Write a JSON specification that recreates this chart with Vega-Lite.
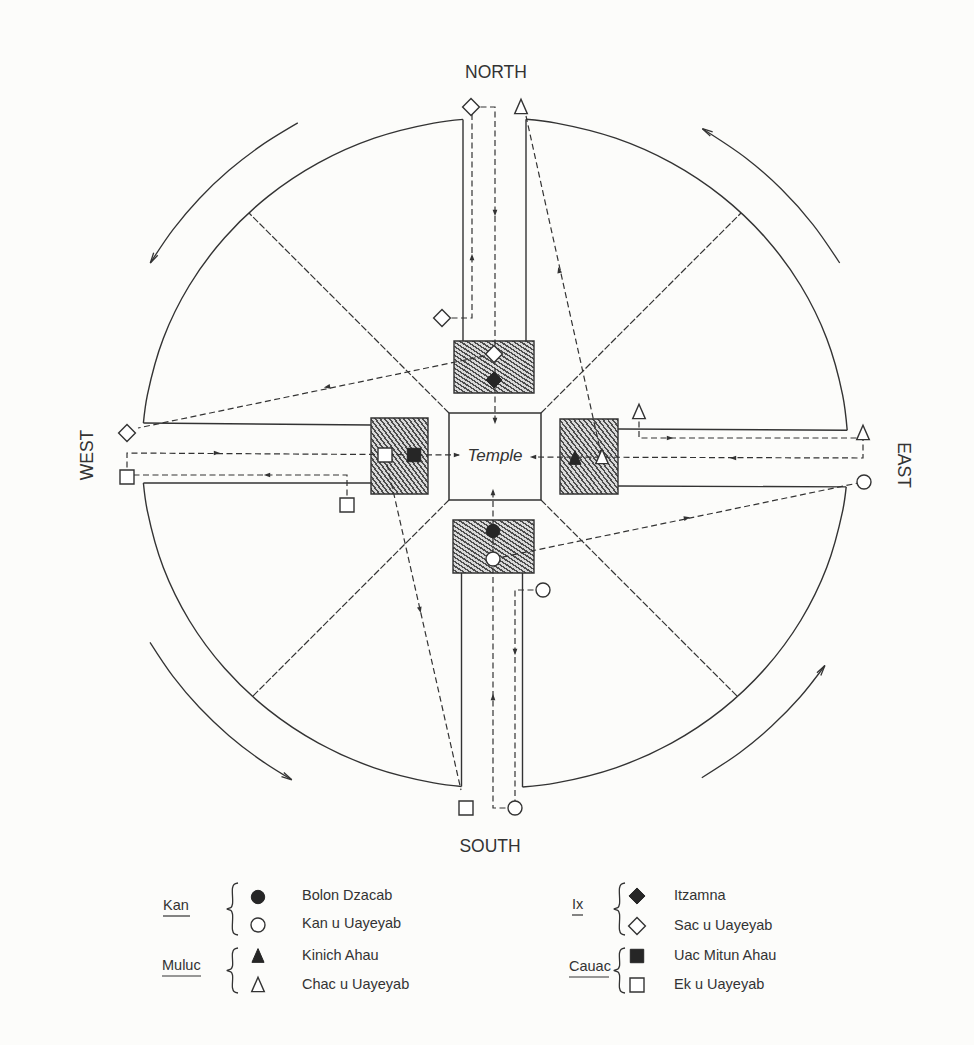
{
 "$schema": "https://vega.github.io/schema/vega-lite/v6.json",
 "width": 974, "height": 1045,
 "autosize": {"type": "fit", "contains": "padding"},
 "padding": 0,
 "background": "#fcfcfa",
 "config": {"view": {"stroke": null}},
 "datasets": {
  "boxes": [
   {"x": 454, "x2": 534, "y": 341, "y2": 393},
   {"x": 371, "x2": 428, "y": 418, "y2": 494},
   {"x": 560, "x2": 618, "y": 419, "y2": 494},
   {"x": 453, "x2": 534, "y": 520, "y2": 573}
  ],
  "temple": [{"x": 449, "x2": 541, "y": 413, "y2": 500}],
  "walls": [
   {"x": 463, "y": 119.4, "x2": 463, "y2": 341},
   {"x": 526, "y": 119.3, "x2": 526, "y2": 341},
   {"x": 461.5, "y": 573, "x2": 461.5, "y2": 786.5},
   {"x": 522.5, "y": 573, "x2": 522.5, "y2": 787},
   {"x": 143.4, "y": 423, "x2": 371, "y2": 425},
   {"x": 143.4, "y": 483, "x2": 371, "y2": 483},
   {"x": 618, "y": 429, "x2": 847.2, "y2": 430.2},
   {"x": 618, "y": 486, "x2": 846.2, "y2": 486.9}
  ],
  "diagonals": [
   {"x": 449, "y": 413, "x2": 249, "y2": 213},
   {"x": 541, "y": 413, "x2": 741, "y2": 213},
   {"x": 449, "y": 500, "x2": 252.5, "y2": 696.5},
   {"x": 541, "y": 500, "x2": 737.5, "y2": 696.5}
  ],
  "circle": [
   {"id": "ne", "i": 0, "x": 847.2, "y": 430.2}, {"id": "ne", "i": 1, "x": 842.6, "y": 394.8}, {"id": "ne", "i": 2, "x": 826.7, "y": 338.4}, {"id": "ne", "i": 3, "x": 800.7, "y": 285.5}, {"id": "ne", "i": 4, "x": 765.4, "y": 237.7}, {"id": "ne", "i": 5, "x": 721.9, "y": 196.4}, {"id": "ne", "i": 6, "x": 671.5, "y": 162.9}, {"id": "ne", "i": 7, "x": 615.7, "y": 138.2}, {"id": "ne", "i": 8, "x": 556.3, "y": 123.1}, {"id": "ne", "i": 9, "x": 526, "y": 119.3},
   {"id": "nw", "i": 0, "x": 463, "y": 119.4}, {"id": "nw", "i": 1, "x": 433.7, "y": 123.1}, {"id": "nw", "i": 2, "x": 374.3, "y": 138.2}, {"id": "nw", "i": 3, "x": 318.5, "y": 162.9}, {"id": "nw", "i": 4, "x": 268.1, "y": 196.4}, {"id": "nw", "i": 5, "x": 224.6, "y": 237.7}, {"id": "nw", "i": 6, "x": 189.3, "y": 285.5}, {"id": "nw", "i": 7, "x": 163.3, "y": 338.4}, {"id": "nw", "i": 8, "x": 147.4, "y": 394.8}, {"id": "nw", "i": 9, "x": 143.4, "y": 423},
   {"id": "sw", "i": 0, "x": 143.4, "y": 483}, {"id": "sw", "i": 1, "x": 147.4, "y": 511.2}, {"id": "sw", "i": 2, "x": 163.3, "y": 567.6}, {"id": "sw", "i": 3, "x": 189.3, "y": 620.5}, {"id": "sw", "i": 4, "x": 224.6, "y": 668.3}, {"id": "sw", "i": 5, "x": 268.1, "y": 709.6}, {"id": "sw", "i": 6, "x": 318.5, "y": 743.1}, {"id": "sw", "i": 7, "x": 374.3, "y": 767.8}, {"id": "sw", "i": 8, "x": 433.7, "y": 782.9}, {"id": "sw", "i": 9, "x": 461.5, "y": 786.5},
   {"id": "se", "i": 0, "x": 522.5, "y": 787}, {"id": "se", "i": 1, "x": 556.3, "y": 782.9}, {"id": "se", "i": 2, "x": 615.7, "y": 767.8}, {"id": "se", "i": 3, "x": 671.5, "y": 743.1}, {"id": "se", "i": 4, "x": 721.9, "y": 709.6}, {"id": "se", "i": 5, "x": 765.4, "y": 668.3}, {"id": "se", "i": 6, "x": 800.7, "y": 620.5}, {"id": "se", "i": 7, "x": 826.7, "y": 567.6}, {"id": "se", "i": 8, "x": 842.6, "y": 511.2}, {"id": "se", "i": 9, "x": 846.2, "y": 486.9}
  ],
  "outer": [
   {"id": "ne", "i": 0, "x": 839.7, "y": 263}, {"id": "ne", "i": 1, "x": 812.8, "y": 224.3}, {"id": "ne", "i": 2, "x": 781.3, "y": 189}, {"id": "ne", "i": 3, "x": 745.5, "y": 157.7}, {"id": "ne", "i": 4, "x": 702.4, "y": 128.7},
   {"id": "nw", "i": 0, "x": 297.8, "y": 122.9}, {"id": "nw", "i": 1, "x": 261.1, "y": 145.6}, {"id": "nw", "i": 2, "x": 228.7, "y": 170.6}, {"id": "nw", "i": 3, "x": 199.2, "y": 198.7}, {"id": "nw", "i": 4, "x": 173, "y": 229.6}, {"id": "nw", "i": 5, "x": 150.3, "y": 263},
   {"id": "sw", "i": 0, "x": 150, "y": 642.4}, {"id": "sw", "i": 1, "x": 173, "y": 676.4}, {"id": "sw", "i": 2, "x": 199.2, "y": 707.3}, {"id": "sw", "i": 3, "x": 228.7, "y": 735.4}, {"id": "sw", "i": 4, "x": 261.1, "y": 760.4}, {"id": "sw", "i": 5, "x": 291.8, "y": 779.8},
   {"id": "se", "i": 0, "x": 701.8, "y": 777.7}, {"id": "se", "i": 1, "x": 740, "y": 752.4}, {"id": "se", "i": 2, "x": 771.5, "y": 726.3}, {"id": "se", "i": 3, "x": 799.9, "y": 697.3}, {"id": "se", "i": 4, "x": 824.9, "y": 665.5}
  ],
  "outerHeads": [
   {"x": 702.4, "y": 128.7, "heading": 300},
   {"x": 150.3, "y": 263, "heading": 211},
   {"x": 291.8, "y": 779.8, "heading": 119.5},
   {"x": 824.9, "y": 665.5, "heading": 35}
  ],
  "paths": [
   {"id": "p1", "i": 0, "x": 442, "y": 318}, {"id": "p1", "i": 1, "x": 472, "y": 318}, {"id": "p1", "i": 2, "x": 472, "y": 110},
   {"id": "p2", "i": 0, "x": 471, "y": 107}, {"id": "p2", "i": 1, "x": 495, "y": 107}, {"id": "p2", "i": 2, "x": 495, "y": 424},
   {"id": "p4", "i": 0, "x": 494, "y": 354}, {"id": "p4", "i": 1, "x": 138, "y": 428},
   {"id": "p5", "i": 0, "x": 526, "y": 116}, {"id": "p5", "i": 1, "x": 602, "y": 458},
   {"id": "p6", "i": 0, "x": 639, "y": 412}, {"id": "p6", "i": 1, "x": 639, "y": 438}, {"id": "p6", "i": 2, "x": 863, "y": 438}, {"id": "p6", "i": 3, "x": 863, "y": 458}, {"id": "p6", "i": 4, "x": 533, "y": 457},
   {"id": "p8", "i": 0, "x": 493, "y": 559}, {"id": "p8", "i": 1, "x": 863, "y": 482},
   {"id": "p10", "i": 0, "x": 515, "y": 808}, {"id": "p10", "i": 1, "x": 493, "y": 808}, {"id": "p10", "i": 2, "x": 493, "y": 490},
   {"id": "p11", "i": 0, "x": 543, "y": 590}, {"id": "p11", "i": 1, "x": 515, "y": 590}, {"id": "p11", "i": 2, "x": 515, "y": 808},
   {"id": "p12", "i": 0, "x": 127, "y": 477}, {"id": "p12", "i": 1, "x": 127, "y": 453}, {"id": "p12", "i": 2, "x": 459, "y": 455},
   {"id": "p13", "i": 0, "x": 347, "y": 505}, {"id": "p13", "i": 1, "x": 347, "y": 475}, {"id": "p13", "i": 2, "x": 127, "y": 475},
   {"id": "p14", "i": 0, "x": 385, "y": 455}, {"id": "p14", "i": 1, "x": 461, "y": 790}
  ],
  "heads": [
   {"x": 472, "y": 257, "heading": 0},
   {"x": 495, "y": 213, "heading": 180},
   {"x": 495, "y": 421, "heading": 180},
   {"x": 327, "y": 387, "heading": 259},
   {"x": 559, "y": 270, "heading": 347},
   {"x": 217, "y": 453, "heading": 90},
   {"x": 267, "y": 475, "heading": 270},
   {"x": 457, "y": 455, "heading": 90},
   {"x": 670, "y": 438, "heading": 90},
   {"x": 733, "y": 458, "heading": 270},
   {"x": 533, "y": 457, "heading": 270},
   {"x": 493, "y": 492, "heading": 0},
   {"x": 515, "y": 652, "heading": 180},
   {"x": 493, "y": 697, "heading": 0},
   {"x": 420, "y": 610, "heading": 167},
   {"x": 687, "y": 518, "heading": 78}
  ],
  "openSymbols": [
   {"kind": "diamond", "x": 471, "y": 107}, {"kind": "diamond", "x": 442, "y": 318}, {"kind": "diamond", "x": 494, "y": 354}, {"kind": "diamond", "x": 127, "y": 433},
   {"kind": "triangle", "x": 521, "y": 107}, {"kind": "triangle", "x": 639, "y": 412}, {"kind": "triangle", "x": 863, "y": 433}, {"kind": "triangle", "x": 602, "y": 457},
   {"kind": "circle", "x": 493, "y": 559}, {"kind": "circle", "x": 543, "y": 590}, {"kind": "circle", "x": 515, "y": 808}, {"kind": "circle", "x": 864, "y": 482},
   {"kind": "square", "x": 127, "y": 477}, {"kind": "square", "x": 347, "y": 505}, {"kind": "square", "x": 385, "y": 455}, {"kind": "square", "x": 466, "y": 808},
   {"kind": "circle", "x": 258, "y": 925}, {"kind": "triangle", "x": 258, "y": 985}, {"kind": "diamond", "x": 637, "y": 926}, {"kind": "square", "x": 637, "y": 985}
  ],
  "filledSymbols": [
   {"kind": "diamond", "x": 494, "y": 380}, {"kind": "triangle", "x": 575, "y": 458}, {"kind": "circle", "x": 493, "y": 531}, {"kind": "square", "x": 414, "y": 455},
   {"kind": "circle", "x": 258, "y": 897}, {"kind": "triangle", "x": 258, "y": 956}, {"kind": "diamond", "x": 637, "y": 896}, {"kind": "square", "x": 637, "y": 956}
  ],
  "braces": [
   {"id": "b1", "i": 0, "x": 238, "y": 883}, {"id": "b1", "i": 1, "x": 234, "y": 884.5}, {"id": "b1", "i": 2, "x": 232.5, "y": 888}, {"id": "b1", "i": 3, "x": 232.5, "y": 904}, {"id": "b1", "i": 4, "x": 231, "y": 907.5}, {"id": "b1", "i": 5, "x": 227, "y": 909}, {"id": "b1", "i": 6, "x": 231, "y": 910.5}, {"id": "b1", "i": 7, "x": 232.5, "y": 914}, {"id": "b1", "i": 8, "x": 232.5, "y": 930}, {"id": "b1", "i": 9, "x": 234, "y": 933.5}, {"id": "b1", "i": 10, "x": 238, "y": 935},
   {"id": "b2", "i": 0, "x": 238, "y": 948}, {"id": "b2", "i": 1, "x": 234, "y": 949.5}, {"id": "b2", "i": 2, "x": 232.5, "y": 953}, {"id": "b2", "i": 3, "x": 232.5, "y": 966}, {"id": "b2", "i": 4, "x": 231, "y": 969}, {"id": "b2", "i": 5, "x": 227, "y": 970.5}, {"id": "b2", "i": 6, "x": 231, "y": 972}, {"id": "b2", "i": 7, "x": 232.5, "y": 975}, {"id": "b2", "i": 8, "x": 232.5, "y": 988}, {"id": "b2", "i": 9, "x": 234, "y": 991.5}, {"id": "b2", "i": 10, "x": 238, "y": 993},
   {"id": "b3", "i": 0, "x": 625, "y": 883}, {"id": "b3", "i": 1, "x": 621, "y": 884.5}, {"id": "b3", "i": 2, "x": 619.5, "y": 888}, {"id": "b3", "i": 3, "x": 619.5, "y": 904}, {"id": "b3", "i": 4, "x": 618, "y": 907.5}, {"id": "b3", "i": 5, "x": 614, "y": 909}, {"id": "b3", "i": 6, "x": 618, "y": 910.5}, {"id": "b3", "i": 7, "x": 619.5, "y": 914}, {"id": "b3", "i": 8, "x": 619.5, "y": 930}, {"id": "b3", "i": 9, "x": 621, "y": 933.5}, {"id": "b3", "i": 10, "x": 625, "y": 935},
   {"id": "b4", "i": 0, "x": 625, "y": 948}, {"id": "b4", "i": 1, "x": 621, "y": 949.5}, {"id": "b4", "i": 2, "x": 619.5, "y": 953}, {"id": "b4", "i": 3, "x": 619.5, "y": 966}, {"id": "b4", "i": 4, "x": 618, "y": 969}, {"id": "b4", "i": 5, "x": 614, "y": 970.5}, {"id": "b4", "i": 6, "x": 618, "y": 972}, {"id": "b4", "i": 7, "x": 619.5, "y": 975}, {"id": "b4", "i": 8, "x": 619.5, "y": 988}, {"id": "b4", "i": 9, "x": 621, "y": 991.5}, {"id": "b4", "i": 10, "x": 625, "y": 993}
  ],
  "underlines": [
   {"x": 163, "x2": 190, "y": 916, "y2": 916},
   {"x": 162, "x2": 201, "y": 976, "y2": 976},
   {"x": 572, "x2": 583, "y": 915, "y2": 915},
   {"x": 569, "x2": 609, "y": 977, "y2": 977}
  ],
  "compass": [
   {"label": "NORTH", "x": 496, "y": 73},
   {"label": "SOUTH", "x": 490, "y": 847}
  ],
  "west": [{"label": "WEST", "x": 88, "y": 455}],
  "east": [{"label": "EAST", "x": 903, "y": 465}],
  "templeLabel": [{"label": "Temple", "x": 495, "y": 456}],
  "groups": [
   {"label": "Kan", "x": 163, "y": 906},
   {"label": "Muluc", "x": 162, "y": 966},
   {"label": "Ix", "x": 572, "y": 905},
   {"label": "Cauac", "x": 569, "y": 967}
  ],
  "items": [
   {"label": "Bolon Dzacab", "x": 302, "y": 896},
   {"label": "Kan u Uayeyab", "x": 302, "y": 924},
   {"label": "Kinich Ahau", "x": 302, "y": 956},
   {"label": "Chac u Uayeyab", "x": 302, "y": 985},
   {"label": "Itzamna", "x": 674, "y": 896},
   {"label": "Sac u Uayeyab", "x": 674, "y": 926},
   {"label": "Uac Mitun Ahau", "x": 674, "y": 956},
   {"label": "Ek u Uayeyab", "x": 674, "y": 985}
  ]
 },
 "encoding": {
  "x": {"field": "x", "type": "quantitative", "scale": {"domain": [0, 974], "nice": false, "zero": false}, "axis": null},
  "y": {"field": "y", "type": "quantitative", "scale": {"domain": [0, 1045], "nice": false, "zero": false, "reverse": true}, "axis": null}
 },
 "layer": [
  {
   "data": {"name": "boxes"},
   "mark": {"type": "rect", "stroke": "#333333", "strokeWidth": 1.4,
    "fill": {"gradient": "linear", "x1": 0, "y1": 1, "x2": 1, "y2": 0, "stops": [
     {"offset": 0, "color": "#d9d9d9"}, {"offset": 0.025, "color": "#d9d9d9"}, {"offset": 0.025, "color": "#4d4d4d"}, {"offset": 0.04167, "color": "#4d4d4d"},
     {"offset": 0.04167, "color": "#d9d9d9"}, {"offset": 0.06667, "color": "#d9d9d9"}, {"offset": 0.06667, "color": "#4d4d4d"}, {"offset": 0.08333, "color": "#4d4d4d"},
     {"offset": 0.08333, "color": "#d9d9d9"}, {"offset": 0.10833, "color": "#d9d9d9"}, {"offset": 0.10833, "color": "#4d4d4d"}, {"offset": 0.125, "color": "#4d4d4d"},
     {"offset": 0.125, "color": "#d9d9d9"}, {"offset": 0.15, "color": "#d9d9d9"}, {"offset": 0.15, "color": "#4d4d4d"}, {"offset": 0.16667, "color": "#4d4d4d"},
     {"offset": 0.16667, "color": "#d9d9d9"}, {"offset": 0.19167, "color": "#d9d9d9"}, {"offset": 0.19167, "color": "#4d4d4d"}, {"offset": 0.20833, "color": "#4d4d4d"},
     {"offset": 0.20833, "color": "#d9d9d9"}, {"offset": 0.23333, "color": "#d9d9d9"}, {"offset": 0.23333, "color": "#4d4d4d"}, {"offset": 0.25, "color": "#4d4d4d"},
     {"offset": 0.25, "color": "#d9d9d9"}, {"offset": 0.275, "color": "#d9d9d9"}, {"offset": 0.275, "color": "#4d4d4d"}, {"offset": 0.29167, "color": "#4d4d4d"},
     {"offset": 0.29167, "color": "#d9d9d9"}, {"offset": 0.31667, "color": "#d9d9d9"}, {"offset": 0.31667, "color": "#4d4d4d"}, {"offset": 0.33333, "color": "#4d4d4d"},
     {"offset": 0.33333, "color": "#d9d9d9"}, {"offset": 0.35833, "color": "#d9d9d9"}, {"offset": 0.35833, "color": "#4d4d4d"}, {"offset": 0.375, "color": "#4d4d4d"},
     {"offset": 0.375, "color": "#d9d9d9"}, {"offset": 0.4, "color": "#d9d9d9"}, {"offset": 0.4, "color": "#4d4d4d"}, {"offset": 0.41667, "color": "#4d4d4d"},
     {"offset": 0.41667, "color": "#d9d9d9"}, {"offset": 0.44167, "color": "#d9d9d9"}, {"offset": 0.44167, "color": "#4d4d4d"}, {"offset": 0.45833, "color": "#4d4d4d"},
     {"offset": 0.45833, "color": "#d9d9d9"}, {"offset": 0.48333, "color": "#d9d9d9"}, {"offset": 0.48333, "color": "#4d4d4d"}, {"offset": 0.5, "color": "#4d4d4d"},
     {"offset": 0.5, "color": "#d9d9d9"}, {"offset": 0.525, "color": "#d9d9d9"}, {"offset": 0.525, "color": "#4d4d4d"}, {"offset": 0.54167, "color": "#4d4d4d"},
     {"offset": 0.54167, "color": "#d9d9d9"}, {"offset": 0.56667, "color": "#d9d9d9"}, {"offset": 0.56667, "color": "#4d4d4d"}, {"offset": 0.58333, "color": "#4d4d4d"},
     {"offset": 0.58333, "color": "#d9d9d9"}, {"offset": 0.60833, "color": "#d9d9d9"}, {"offset": 0.60833, "color": "#4d4d4d"}, {"offset": 0.625, "color": "#4d4d4d"},
     {"offset": 0.625, "color": "#d9d9d9"}, {"offset": 0.65, "color": "#d9d9d9"}, {"offset": 0.65, "color": "#4d4d4d"}, {"offset": 0.66667, "color": "#4d4d4d"},
     {"offset": 0.66667, "color": "#d9d9d9"}, {"offset": 0.69167, "color": "#d9d9d9"}, {"offset": 0.69167, "color": "#4d4d4d"}, {"offset": 0.70833, "color": "#4d4d4d"},
     {"offset": 0.70833, "color": "#d9d9d9"}, {"offset": 0.73333, "color": "#d9d9d9"}, {"offset": 0.73333, "color": "#4d4d4d"}, {"offset": 0.75, "color": "#4d4d4d"},
     {"offset": 0.75, "color": "#d9d9d9"}, {"offset": 0.775, "color": "#d9d9d9"}, {"offset": 0.775, "color": "#4d4d4d"}, {"offset": 0.79167, "color": "#4d4d4d"},
     {"offset": 0.79167, "color": "#d9d9d9"}, {"offset": 0.81667, "color": "#d9d9d9"}, {"offset": 0.81667, "color": "#4d4d4d"}, {"offset": 0.83333, "color": "#4d4d4d"},
     {"offset": 0.83333, "color": "#d9d9d9"}, {"offset": 0.85833, "color": "#d9d9d9"}, {"offset": 0.85833, "color": "#4d4d4d"}, {"offset": 0.875, "color": "#4d4d4d"},
     {"offset": 0.875, "color": "#d9d9d9"}, {"offset": 0.9, "color": "#d9d9d9"}, {"offset": 0.9, "color": "#4d4d4d"}, {"offset": 0.91667, "color": "#4d4d4d"},
     {"offset": 0.91667, "color": "#d9d9d9"}, {"offset": 0.94167, "color": "#d9d9d9"}, {"offset": 0.94167, "color": "#4d4d4d"}, {"offset": 0.95833, "color": "#4d4d4d"},
     {"offset": 0.95833, "color": "#d9d9d9"}, {"offset": 0.98333, "color": "#d9d9d9"}, {"offset": 0.98333, "color": "#4d4d4d"}, {"offset": 1, "color": "#4d4d4d"}
    ]}},
   "encoding": {"x2": {"field": "x2"}, "y2": {"field": "y2"}}
  },
  {
   "data": {"name": "temple"},
   "mark": {"type": "rect", "filled": false, "stroke": "#333333", "strokeWidth": 1.5},
   "encoding": {"x2": {"field": "x2"}, "y2": {"field": "y2"}}
  },
  {
   "data": {"name": "circle"},
   "mark": {"type": "line", "interpolate": "catmull-rom", "stroke": "#333333", "strokeWidth": 1.4},
   "encoding": {"detail": {"field": "id"}, "order": {"field": "i"}}
  },
  {
   "data": {"name": "outer"},
   "mark": {"type": "line", "interpolate": "catmull-rom", "stroke": "#333333", "strokeWidth": 1.3},
   "encoding": {"detail": {"field": "id"}, "order": {"field": "i"}}
  },
  {
   "data": {"name": "outerHeads"},
   "mark": {"type": "point", "shape": "M-0.45,2L0,0L0.45,2", "size": 110, "filled": false, "stroke": "#333333", "strokeWidth": 1.3, "opacity": 1},
   "encoding": {"angle": {"field": "heading", "type": "quantitative", "scale": null}}
  },
  {
   "data": {"name": "walls"},
   "mark": {"type": "rule", "stroke": "#333333", "strokeWidth": 1.4},
   "encoding": {"x2": {"field": "x2"}, "y2": {"field": "y2"}}
  },
  {
   "data": {"name": "diagonals"},
   "mark": {"type": "rule", "stroke": "#333333", "strokeWidth": 1.2, "strokeDash": [7, 2]},
   "encoding": {"x2": {"field": "x2"}, "y2": {"field": "y2"}}
  },
  {
   "data": {"name": "paths"},
   "mark": {"type": "line", "stroke": "#333333", "strokeWidth": 1.2, "strokeDash": [6, 3.5]},
   "encoding": {"detail": {"field": "id"}, "order": {"field": "i"}}
  },
  {
   "data": {"name": "heads"},
   "mark": {"type": "point", "shape": "M0,-1L0.75,1L-0.75,1Z", "size": 40, "filled": true, "fill": "#333333", "opacity": 1},
   "encoding": {"angle": {"field": "heading", "type": "quantitative", "scale": null}}
  },
  {
   "data": {"name": "openSymbols"},
   "mark": {"type": "point", "filled": true, "fill": "#ffffff", "stroke": "#333333", "strokeWidth": 1.4, "size": 196, "opacity": 1},
   "encoding": {"shape": {"field": "kind", "type": "nominal", "legend": null,
    "scale": {"domain": ["circle", "square", "diamond", "triangle"], "range": ["circle", "square", "M-1.2,0L0,-1.2L1.2,0L0,1.2Z", "M0,-1.1L0.9,0.95L-0.9,0.95Z"]}}}
  },
  {
   "data": {"name": "filledSymbols"},
   "mark": {"type": "point", "filled": true, "fill": "#262626", "stroke": "#262626", "strokeWidth": 1, "size": 180, "opacity": 1},
   "encoding": {"shape": {"field": "kind", "type": "nominal", "legend": null}}
  },
  {
   "data": {"name": "braces"},
   "mark": {"type": "line", "interpolate": "catmull-rom", "stroke": "#333333", "strokeWidth": 1.3},
   "encoding": {"detail": {"field": "id"}, "order": {"field": "i"}}
  },
  {
   "data": {"name": "underlines"},
   "mark": {"type": "rule", "stroke": "#333333", "strokeWidth": 1.2},
   "encoding": {"x2": {"field": "x2"}, "y2": {"field": "y2"}}
  },
  {
   "data": {"name": "compass"},
   "mark": {"type": "text", "font": "Liberation Sans", "fontSize": 17.5, "fill": "#333333", "align": "center", "baseline": "middle"},
   "encoding": {"text": {"field": "label"}}
  },
  {
   "data": {"name": "west"},
   "mark": {"type": "text", "font": "Liberation Sans", "fontSize": 17.5, "fill": "#333333", "align": "center", "baseline": "middle", "angle": 270},
   "encoding": {"text": {"field": "label"}}
  },
  {
   "data": {"name": "east"},
   "mark": {"type": "text", "font": "Liberation Sans", "fontSize": 17.5, "fill": "#333333", "align": "center", "baseline": "middle", "angle": 90},
   "encoding": {"text": {"field": "label"}}
  },
  {
   "data": {"name": "templeLabel"},
   "mark": {"type": "text", "font": "Liberation Sans", "fontSize": 17, "fontStyle": "italic", "fill": "#333333", "align": "center", "baseline": "middle"},
   "encoding": {"text": {"field": "label"}}
  },
  {
   "data": {"name": "groups"},
   "mark": {"type": "text", "font": "Liberation Sans", "fontSize": 14.5, "fill": "#333333", "align": "left", "baseline": "middle"},
   "encoding": {"text": {"field": "label"}}
  },
  {
   "data": {"name": "items"},
   "mark": {"type": "text", "font": "Liberation Sans", "fontSize": 14.5, "fill": "#333333", "align": "left", "baseline": "middle"},
   "encoding": {"text": {"field": "label"}}
  }
 ]
}
